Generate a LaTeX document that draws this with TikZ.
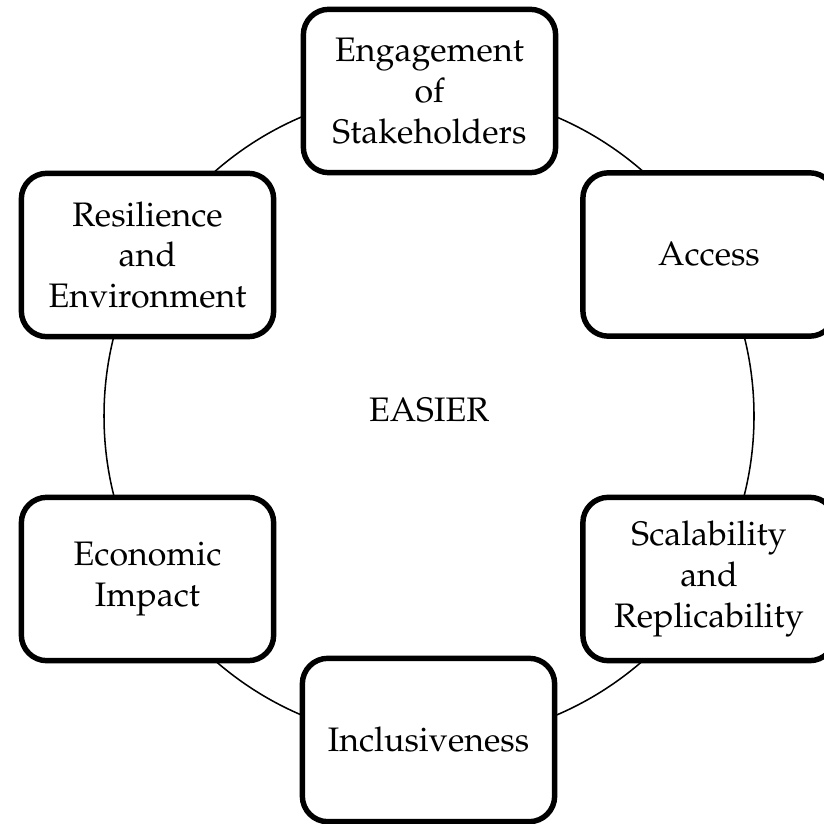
\documentclass[tikz,border=0pt]{standalone}
\usepackage[T1]{fontenc}
\usepackage{mathpazo}

\tikzset{
    pillar/.style={draw, line width=1.6pt, rounded corners=7.5pt, fill=white,
        align=center, minimum width=2.61cm, minimum height=1.69cm, inner sep=0pt},
}

\begin{document}
\begin{tikzpicture}[x=0.01034cm, y=-0.01034cm]
    \useasboundingbox (0,0) rectangle (823,824);

    \coordinate (hub) at (429,416);
    \draw[line width=0.45pt] (hub) circle (325);
    \node (easier) at (429,410) {EASIER};

    \node[pillar] (engage) at (429.5,91)  {Engagement\\of\\Stakeholders};
    \node[pillar] (access) at (709,254.5) {Access};
    \node[pillar] (resil)  at (147.5,255) {Resilience\\and\\Environment};
    \node[pillar] (scale)  at (709,579)   {Scalability\\and\\Replicability};
    \node[pillar] (econ)   at (147.5,579) {Economic\\Impact};
    \node[pillar] (incl)   at (428.5,740) {Inclusiveness};
\end{tikzpicture}
\end{document}
